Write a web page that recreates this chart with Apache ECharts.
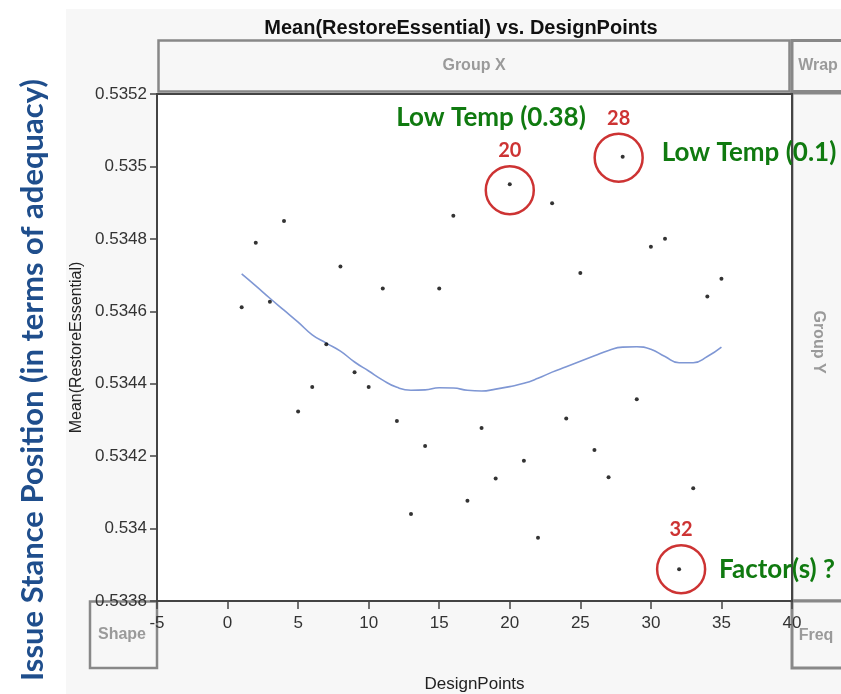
<!DOCTYPE html>
<html>
<head>
<meta charset="utf-8">
<script src="https://cdn.jsdelivr.net/npm/echarts@6/dist/echarts.min.js"></script>
<style>html,body{margin:0;padding:0;background:#fff;}#c{width:841px;height:694px;}</style>
</head>
<body>
<div id="c"></div>
<script>
// ---- data ----
const designPoints = [1,2,3,4,5,6,7,8,9,10,11,12,13,14,15,16,17,18,19,20,21,22,23,24,25,26,27,28,29,30,31,32,33,34,35];
const meanRestore = [0.534611,0.534789,0.534626,0.534849,0.534323,0.534391,0.534509,0.534724,0.534432,0.534391,
  0.534663,0.534297,0.534040,0.534228,0.534663,0.534864,0.534077,0.534278,0.534138,0.534951,
  0.534187,0.533975,0.534898,0.534304,0.534706,0.534217,0.534142,0.535027,0.534357,0.534778,
  0.534800,0.533888,0.534111,0.534641,0.534690];
const smoothValues = [0.534703,0.534670,0.534636,0.534603,0.534570,0.534535,0.534512,0.534490,0.534460,0.534435,
  0.534410,0.534390,0.534382,0.534383,0.534389,0.534388,0.534382,0.534380,0.534385,0.534392,
  0.534401,0.534415,0.534432,0.534447,0.534462,0.534477,0.534492,0.534501,0.534502,0.534495,
  0.534475,0.534458,0.534458,0.534475,0.534501];
const highlighted = [20, 28, 32];
const xTicks = {min: -5, max: 40, interval: 5};
const yTicks = {min: 0.5338, max: 0.5352, interval: 0.0002};

const chart = echarts.init(document.getElementById('c'));
const pts = designPoints.map((d, i) => [d, meanRestore[i]]);
const fit = designPoints.map((d, i) => [d, smoothValues[i]]);
const offsets = {20: [0, 6], 28: [-4, 1], 32: [2, 0]};
const annot = highlighted.map(d => ({
  value: [d, meanRestore[designPoints.indexOf(d)]],
  symbolOffset: offsets[d]
}));

const gray = '#888';
const panel = '#f7f7f7';
const boxText = {fill: '#9a9a9a', font: 'bold 16px "Liberation Sans", Arial, sans-serif'};
const green = '#107a10';
const red = '#c00000';
const greenFont = 'bold 26px Lato, sans-serif';
const axisFont = '"Liberation Sans", Arial, sans-serif';

chart.setOption({
  animation: false,
  backgroundColor: panel,
  title: {
    text: 'Mean(RestoreEssential) vs. DesignPoints',
    left: 456, top: 13, textAlign: 'center',
    textStyle: {fontFamily: axisFont, fontSize: 20, fontWeight: 'bold', color: '#111'}
  },
  grid: {left: 157, top: 94, right: 49, bottom: 93, outerBoundsMode: 'none', containLabel: false,
    show: true, backgroundColor: '#fff', borderColor: '#444', borderWidth: 2},
  xAxis: {
    type: 'value', min: xTicks.min, max: xTicks.max, interval: xTicks.interval,
    name: 'DesignPoints', nameLocation: 'middle', nameGap: 75,
    nameTextStyle: {fontFamily: axisFont, fontSize: 17, color: '#222'},
    axisLine: {show: true, onZero: false, lineStyle: {color: '#444', width: 2}},
    axisTick: {show: true, length: 8, lineStyle: {color: '#444', width: 1.5}},
    axisLabel: {fontFamily: axisFont, fontSize: 17, color: '#333', margin: 14},
    splitLine: {show: false}
  },
  yAxis: {
    type: 'value', min: yTicks.min, max: yTicks.max, interval: yTicks.interval,
    name: 'Mean(RestoreEssential)', nameLocation: 'middle', nameGap: 72, nameRotate: 90,
    nameTextStyle: {fontFamily: axisFont, fontSize: 16, color: '#222'},
    axisLine: {show: true, onZero: false, lineStyle: {color: '#444', width: 2}},
    axisTick: {show: true, length: 7, lineStyle: {color: '#444', width: 1.5}},
    axisLabel: {fontFamily: axisFont, fontSize: 17, color: '#333', margin: 10,
      formatter: v => String(parseFloat(v.toFixed(4)))},
    splitLine: {show: false}
  },
  graphic: [
    {type: 'rect', z: -10, shape: {x: 0, y: 0, width: 66, height: 694}, style: {fill: '#fff'}},
    {type: 'rect', z: -10, shape: {x: 0, y: 0, width: 841, height: 9}, style: {fill: '#fff'}},
    {type: 'rect', z: -5, shape: {x: 158.5, y: 40.5, width: 631, height: 51}, style: {fill: panel, stroke: gray, lineWidth: 2.5}},
    {type: 'rect', z: -5, shape: {x: 792, y: 40.5, width: 60, height: 51}, style: {fill: panel, stroke: gray, lineWidth: 3}},
    {type: 'rect', z: -5, shape: {x: 792, y: 93, width: 60, height: 508}, style: {fill: panel, stroke: gray, lineWidth: 3}},
    {type: 'rect', z: -5, shape: {x: 792, y: 601, width: 60, height: 67}, style: {fill: panel, stroke: gray, lineWidth: 3}},
    {type: 'rect', z: -5, shape: {x: 90, y: 601.5, width: 67, height: 66.5}, style: {fill: panel, stroke: gray, lineWidth: 2.5}},
    {type: 'text', x: 474, y: 66, style: Object.assign({text: 'Group X', textAlign: 'center', textVerticalAlign: 'middle'}, boxText)},
    {type: 'text', x: 818, y: 66, style: Object.assign({text: 'Wrap', textAlign: 'center', textVerticalAlign: 'middle'}, boxText)},
    {type: 'text', x: 818, y: 342, rotation: -Math.PI / 2, style: Object.assign({text: 'Group Y', textAlign: 'center', textVerticalAlign: 'middle'}, boxText)},
    {type: 'text', x: 122, y: 635, style: Object.assign({text: 'Shape', textAlign: 'center', textVerticalAlign: 'middle'}, boxText)},
    {type: 'text', x: 816, y: 636, style: Object.assign({text: 'Freq', textAlign: 'center', textVerticalAlign: 'middle'}, boxText)},
    {type: 'text', x: 33, y: 380, rotation: Math.PI / 2, z: 10,
      style: {text: 'Issue Stance Position (in terms of adequacy)', textAlign: 'center', textVerticalAlign: 'middle',
        fill: '#1f4e8c', font: 'bold 31px Lato, "Open Sans", sans-serif'}},
    {type: 'text', x: 491, y: 118, z: 10, style: {text: 'Low Temp (0.38)', textAlign: 'center', textVerticalAlign: 'middle', fill: green, font: greenFont}},
    {type: 'text', x: 749, y: 153, z: 10, style: {text: 'Low Temp (0.1)', textAlign: 'center', textVerticalAlign: 'middle', fill: green, font: greenFont}},
    {type: 'text', x: 777, y: 570, z: 10, style: {text: 'Factor(s) ?', textAlign: 'center', textVerticalAlign: 'middle', fill: green, font: greenFont}}
  ],
  series: [
    {type: 'line', data: fit, smooth: true, showSymbol: false, lineStyle: {color: '#7f97d4', width: 1.6}, z: 2},
    {type: 'scatter', data: pts, symbol: 'circle', symbolSize: 4, itemStyle: {color: '#000'}, z: 3},
    {type: 'scatter', data: annot, symbol: 'circle', symbolSize: 48, z: 4,
      itemStyle: {color: 'rgba(0,0,0,0)', borderColor: red, borderWidth: 2.5},
      label: {show: true, position: 'top', distance: 4, formatter: p => String(p.value[0]),
        color: red, fontFamily: 'Lato, sans-serif', fontWeight: 'bold', fontSize: 20}}
  ]
});
</script>
</body>
</html>
